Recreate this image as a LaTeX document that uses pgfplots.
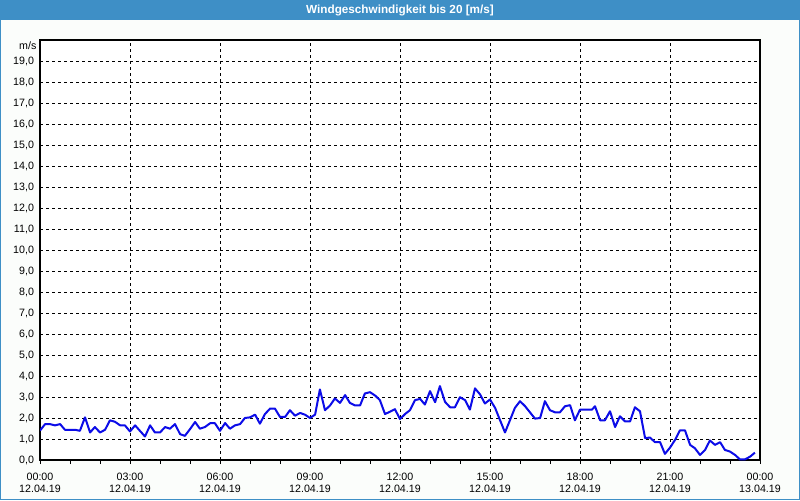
\documentclass[border=0pt]{standalone}
\usepackage{pgfplots}
\pgfplotsset{compat=1.18}
\usepackage{fontspec}
\setmainfont{Liberation Sans}
\definecolor{titlebg}{RGB}{62,143,198}
\definecolor{pagebg}{RGB}{251,253,251}
\definecolor{linecol}{RGB}{12,12,232}
\pgfplotstableread{
h v
0.0 1.40
0.17 1.71
0.33 1.71
0.5 1.65
0.67 1.71
0.83 1.44
1.0 1.44
1.17 1.44
1.33 1.39
1.5 2.03
1.67 1.31
1.83 1.57
2.0 1.31
2.17 1.44
2.33 1.89
2.5 1.82
2.67 1.65
2.83 1.65
3.0 1.36
3.17 1.65
3.33 1.39
3.5 1.12
3.67 1.65
3.83 1.31
4.0 1.31
4.17 1.57
4.33 1.49
4.5 1.71
4.67 1.23
4.83 1.15
5.0 1.47
5.17 1.81
5.33 1.49
5.5 1.57
5.67 1.75
5.83 1.75
6.0 1.39
6.17 1.76
6.33 1.49
6.5 1.65
6.67 1.71
6.83 2.0
7.0 2.03
7.17 2.16
7.33 1.73
7.5 2.19
7.67 2.45
7.83 2.45
8.0 2.05
8.17 2.05
8.33 2.37
8.5 2.11
8.67 2.24
8.83 2.16
9.0 2.0
9.17 2.16
9.33 3.36
9.5 2.37
9.67 2.6
9.83 2.93
10.0 2.72
10.17 3.09
10.33 2.72
10.5 2.6
10.67 2.6
10.83 3.17
11.0 3.23
11.17 3.07
11.33 2.85
11.5 2.19
11.67 2.30
11.83 2.42
12.0 1.95
12.17 2.19
12.33 2.37
12.5 2.85
12.67 2.91
12.83 2.64
13.0 3.28
13.17 2.75
13.33 3.52
13.5 2.77
13.67 2.51
13.83 2.51
14.0 2.99
14.17 2.85
14.33 2.4
14.5 3.41
14.67 3.12
14.83 2.69
15.0 2.88
15.17 2.48
15.5 1.31
15.83 2.48
16.0 2.8
16.17 2.56
16.5 1.97
16.67 2.0
16.83 2.8
17.0 2.37
17.17 2.27
17.33 2.27
17.5 2.56
17.67 2.61
17.83 1.89
18.0 2.4
18.17 2.4
18.4 2.4
18.5 2.56
18.67 1.89
18.83 1.89
19.0 2.32
19.17 1.57
19.33 2.08
19.5 1.84
19.67 1.84
19.83 2.51
20.0 2.32
20.17 1.04
20.33 1.07
20.5 0.85
20.67 0.85
20.83 0.29
21.0 0.59
21.17 0.96
21.33 1.41
21.5 1.41
21.67 0.72
21.83 0.56
22.0 0.24
22.17 0.48
22.33 0.93
22.5 0.72
22.67 0.85
22.83 0.48
23.0 0.4
23.17 0.24
23.33 0.03
23.5 0.03
23.67 0.16
23.83 0.35
}\windtable
\begin{document}
\begin{tikzpicture}[x=0.75pt,y=0.75pt]
\fill[pagebg] (0,0) rectangle (800,500);
\fill[titlebg] (0,480) rectangle (800,500);
\draw[titlebg, line width=0.75pt] (0.5,0.5) rectangle (799.5,480);
\node[text=white, font=\fontsize{8.8}{10}\selectfont\bfseries] at (400,490) {Windgeschwindigkeit bis 20 [m/s]};
\begin{axis}[
  name=ax,
  at={(30pt,30pt)}, anchor=south west,
  width=540pt, height=315pt, scale only axis,
  xmin=0, xmax=24, ymin=0, ymax=20,
  xtick={0,3,...,24},
  minor xtick={1,2,4,5,7,8,10,11,13,14,16,17,19,20,22,23},
  xticklabels={00:00\\12.04.19,03:00\\12.04.19,06:00\\12.04.19,09:00\\12.04.19,12:00\\12.04.19,15:00\\12.04.19,18:00\\12.04.19,21:00\\12.04.19,00:00\\13.04.19},
  xticklabel style={align=center, font=\fontsize{8}{8.6}\selectfont, yshift=-3.5pt},
  ytick={0,1,...,19},
  yticklabel style={font=\fontsize{8}{10}\selectfont, xshift=2pt},
  /pgf/number format/.cd, use comma, fixed, fixed zerofill, precision=1, assume math mode=true,
  /pgfplots/.cd,
  xtick pos=bottom, ytick pos=left,
  tick align=outside,
  major tick length=3pt, minor tick length=3pt,
  ytick style={draw=none},
  xtick style={black, line width=0.6pt},
  xmajorgrids, ymajorgrids,
  major grid style={black, line width=0.6pt, dash pattern=on 2.25pt off 2.25pt},
  axis line style={black, line width=1pt},
  axis background/.style={fill=white},
  clip=true,
]
\addplot[linecol, line width=1.5pt, line join=round] table[x=h, y=v] {\windtable};
\end{axis}
\node[anchor=east, font=\fontsize{8}{10}\selectfont, inner sep=0pt] at ([xshift=-2.5pt, yshift=-4.5pt]ax.north west) {m/s};
\end{tikzpicture}
\end{document}
